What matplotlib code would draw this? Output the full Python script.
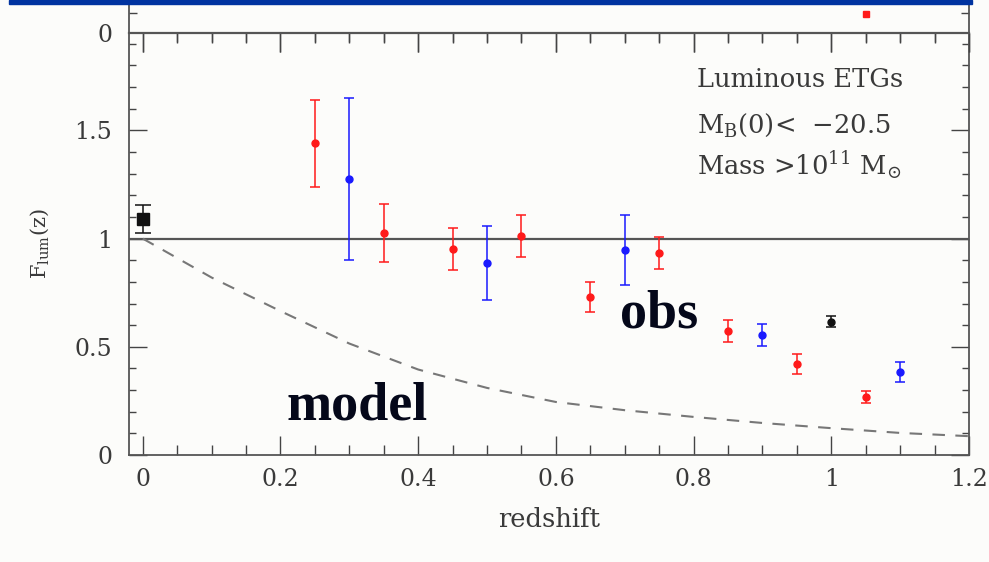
"""Luminous ETG luminosity function evolution vs redshift."""

import numpy as np
import matplotlib
matplotlib.use("Agg")
import matplotlib.pyplot as plt
from matplotlib.patches import Rectangle
from matplotlib.ticker import MultipleLocator

red_z = [0.25, 0.35, 0.45, 0.55, 0.65, 0.75, 0.85, 0.95, 1.05]
red_f = [1.44, 1.025, 0.952, 1.012, 0.73, 0.933, 0.573, 0.42, 0.268]
red_err = [0.20, 0.135, 0.095, 0.095, 0.07, 0.075, 0.053, 0.045, 0.03]

blue_z = [0.3, 0.5, 0.7, 0.9, 1.1]
blue_f = [1.275, 0.887, 0.947, 0.555, 0.384]
blue_err = [0.375, 0.17, 0.16, 0.05, 0.048]

local_z = [0.0]
local_f = [1.09]
local_err = [0.065]

black_z = [1.0]
black_f = [0.615]
black_err = [0.025]

# dashed model curve
model_z = [0.0, 0.1, 0.2, 0.3, 0.4, 0.5, 0.6, 0.7, 0.8, 0.9, 1.0, 1.1, 1.2]
model_f = [1.0, 0.82, 0.665, 0.515, 0.395, 0.31, 0.245, 0.207, 0.176, 0.148, 0.124, 0.102, 0.087]

# point visible in the panel above
upper_z = [1.05]
upper_f = [0.19]

W, H = 989, 562
fig = plt.figure(figsize=(W / 100, H / 100), dpi=100)
fig.patch.set_facecolor('#fcfcfa')

plt.rcParams['mathtext.fontset'] = 'dejavuserif'
serif = 'DejaVu Serif'
grey = '#3a3a3a'
px = 0.72  # points per pixel

# main panel geometry in pixels
left, right, top, bottom = 129, 969, 33, 455
ax = fig.add_axes([left / W, 1 - bottom / H, (right - left) / W, (bottom - top) / H])
ax.set_facecolor('#fcfcfa')

# upper panel (mostly cut off by the figure edge)
ax_up = fig.add_axes([left / W, 1 - top / H, (right - left) / W, 100 / H])
ax_up.set_facecolor('#fcfcfa')

# reference line and model
ax.axhline(1.0, color='#555555', lw=1.6)
ax.plot(model_z, model_f, color='#777777', lw=1.5, ls=(0, (6, 5)))

eb = dict(fmt='o', ms=5, elinewidth=1.1, capsize=3.5, capthick=1.1)
ax.errorbar(red_z, red_f, yerr=red_err, color='#ff1a1a', **eb)
ax.errorbar(blue_z, blue_f, yerr=blue_err, color='#1a1aff', **eb)
ax.errorbar(black_z, black_f, yerr=black_err, color='#111111', **eb)
ax.errorbar(local_z, local_f, yerr=local_err, fmt='s', ms=9, color='#111111',
            elinewidth=1.1, capsize=6, capthick=1.1)

ax.set_xlim(-0.02, 1.2)
ax.set_ylim(0, 1.95)

ax.xaxis.set_major_locator(MultipleLocator(0.2))
ax.xaxis.set_minor_locator(MultipleLocator(0.05))
ax.yaxis.set_major_locator(MultipleLocator(0.5))
ax.yaxis.set_minor_locator(MultipleLocator(0.1))
ax.set_xticks([0, 0.2, 0.4, 0.6, 0.8, 1.0, 1.2])
ax.set_xticklabels(['0', '0.2', '0.4', '0.6', '0.8', '1', '1.2'])
ax.set_yticks([0, 0.5, 1.0, 1.5])
ax.set_yticklabels(['0', '0.5', '1', '1.5'])

ax.tick_params(axis='both', which='both', direction='in', colors='#444444',
               labelcolor=grey, labelsize=17, width=1.0)
ax.tick_params(axis='x', which='major', length=19 * px, pad=9)
ax.tick_params(axis='x', which='minor', length=10 * px)
ax.tick_params(axis='y', which='major', length=18 * px, pad=12, right=True)
ax.tick_params(axis='y', which='minor', length=7 * px, right=True)
# top spine is shared with the upper panel: ticks cross it
ax.tick_params(axis='x', which='major', top=True)
ax.tick_params(axis='x', which='minor', top=True)
for lab in ax.get_xticklabels() + ax.get_yticklabels():
    lab.set_family(serif)
for s in ax.spines.values():
    s.set_color('#555555')
    s.set_linewidth(1.3)

# upper panel: zero line with crossing ticks
ax_up.plot(upper_z, upper_f, 's', ms=5, color='#ff1a1a')
ax_up.set_xlim(-0.02, 1.2)
ax_up.set_ylim(0, 1)
ax_up.xaxis.set_major_locator(MultipleLocator(0.2))
ax_up.xaxis.set_minor_locator(MultipleLocator(0.05))
ax_up.set_yticks([0])
ax_up.set_yticklabels(['0'])
ax_up.yaxis.set_minor_locator(MultipleLocator(0.2))
ax_up.tick_params(axis='x', which='both', direction='out', labelbottom=False,
                  colors='#444444', width=1.0)
ax_up.tick_params(axis='x', which='major', length=19 * px)
ax_up.tick_params(axis='x', which='minor', length=9 * px)
ax_up.tick_params(axis='y', which='both', direction='in', right=True,
                  colors='#444444', labelcolor=grey, labelsize=17, width=1.0)
ax_up.tick_params(axis='y', which='major', length=0, pad=12)
ax_up.tick_params(axis='y', which='minor', length=8 * px)
for lab in ax_up.get_yticklabels():
    lab.set_family(serif)
for s in ax_up.spines.values():
    s.set_color('#555555')
    s.set_linewidth(1.3)
ax_up.spines['bottom'].set_linewidth(1.6)

# labels
ax.set_xlabel('redshift', family=serif, fontsize=18.5, color=grey, labelpad=12)
ax.set_ylabel(r'F$_{\rm lum}$(z)', family=serif, fontsize=15, color=grey)
ax.yaxis.set_label_coords(-(left - 40) / (right - left), 0.5)
ax.yaxis.label.set_va('center')

txt = dict(transform=ax.transAxes, family=serif, fontsize=18.5, color=grey, va='center')
ax.text(0.676, 0.889, 'Luminous ETGs', **txt)
ax.text(0.676, 0.782, r'M$_{\rm B}$(0)<  $-$20.5', **txt)
ax.text(0.676, 0.687, r'Mass >10$^{11}$ M$_{\odot}$', **txt)

big = dict(transform=ax.transAxes, family='Liberation Serif', fontweight='bold',
           fontsize=39, color='#05081a', va='baseline')
ax.text(0.5845, 0.301, 'obs', **big)
ax.text(0.188, 0.083, 'model', **big)

# slide title bar peeking in at the top
fig.patches.append(Rectangle((9 / W, 1 - 4 / H), (972 - 9) / W, 4 / H,
                             transform=fig.transFigure, color='#0033a0', zorder=10))

fig.savefig('out.png', dpi=100, facecolor=fig.get_facecolor())
